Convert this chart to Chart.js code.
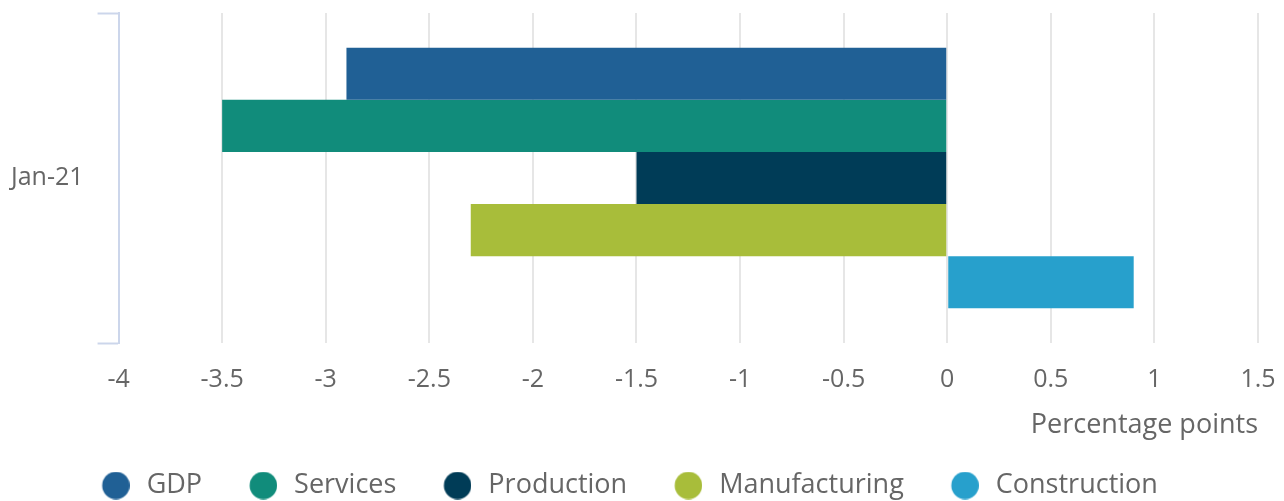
<!DOCTYPE html>
<html>
<head>
<meta charset="utf-8">
<script src="https://cdn.jsdelivr.net/npm/chart.js@4"></script>
<style>
  html, body { margin: 0; padding: 0; background: #fff; }
  #wrap { width: 1284px; height: 501px; }
</style>
</head>
<body>
<div id="wrap"><canvas id="c" width="1284" height="501"></canvas></div>
<script>
const categories = ["Jan-21"];
const seriesNames = ["GDP", "Services", "Production", "Manufacturing", "Construction"];
const gdp = [-2.9];
const services = [-3.5];
const production = [-1.5];
const manufacturing = [-2.3];
const construction = [0.9];
const xMin = -4, xMax = 1.5, xStep = 0.5;
const xTickLabels = ["-4", "-3.5", "-3", "-2.5", "-2", "-1.5", "-1", "-0.5", "0", "0.5", "1", "1.5"];
const xTitle = "Percentage points";

const colors = ["#206095", "#118c7b", "#003c57", "#a8bd3a", "#27a0cc"];
const values = [gdp, services, production, manufacturing, construction];

// legend marker images: circle drawn toward the right of a wider transparent image
function makeDot(color) {
  const c = document.createElement("canvas");
  c.width = 49; c.height = 28;
  const g = c.getContext("2d");
  g.fillStyle = color;
  g.beginPath();
  g.arc(35.25, 14, 13.75, 0, Math.PI * 2);
  g.fill();
  return c;
}
const dots = colors.map(makeDot);

Chart.defaults.font.family = "'Open Sans', sans-serif";
Chart.defaults.color = "#666666";

new Chart(document.getElementById("c"), {
  type: "bar",
  data: {
    labels: categories,
    datasets: seriesNames.map((n, i) => ({
      label: n,
      data: values[i],
      backgroundColor: colors[i],
      borderWidth: 0,
      categoryPercentage: 0.79,
      barPercentage: 1.0
    }))
  },
  options: {
    indexAxis: "y",
    responsive: false,
    animation: false,
    layout: { padding: { top: 13, left: -23, right: 26, bottom: -8 } },
    scales: {
      x: {
        min: xMin, max: xMax,
        ticks: {
          stepSize: xStep, padding: 22, font: { size: 25 }, color: "#666666",
          callback: (v, i) => xTickLabels[i]
        },
        grid: { color: "#e6e6e6", lineWidth: 2, drawTicks: false },
        border: { display: false },
        title: { display: true, text: xTitle, align: "end", font: { size: 27 }, color: "#666666", padding: { top: -7.7, bottom: 7.8 } },
        afterFit: (s) => { s.paddingLeft = 0; s.paddingRight = 0; }
      },
      y: {
        ticks: { padding: 14, font: { size: 25 }, color: "#666666" },
        grid: { drawOnChartArea: false, drawTicks: true, tickLength: 21, tickColor: "#ccd6eb", tickWidth: 2, offset: true },
        border: { display: true, color: "#ccd6eb", width: 2 },
        afterFit: (s) => { s.paddingTop = 0; s.paddingBottom = 0; s.width += 20; }
      }
    },
    plugins: {
      tooltip: { enabled: false },
      legend: {
        position: "bottom",
        labels: {
          usePointStyle: true,
          boxHeight: 24,
          pointStyleWidth: 56,
          padding: 22.5,
          font: { size: 27 },
          color: "#666666",
          generateLabels: (chart) => {
            const items = Chart.defaults.plugins.legend.labels.generateLabels(chart);
            items.forEach(it => { it.pointStyle = dots[it.datasetIndex]; });
            return items;
          }
        }
      }
    }
  }
});
</script>
</body>
</html>
